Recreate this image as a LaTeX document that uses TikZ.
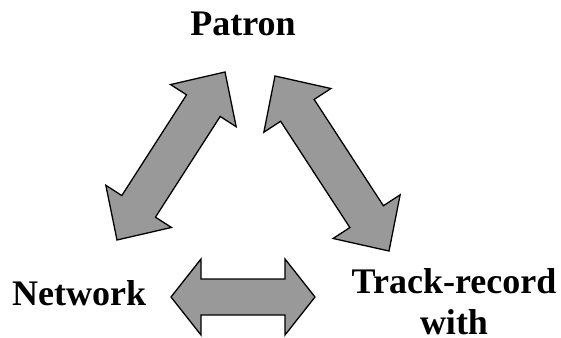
\documentclass[tikz,border=0pt]{standalone}
\usepackage{fontspec}
\setmainfont{Liberation Serif}
\usepackage{xcolor}
\usepackage{tikz}
\usetikzlibrary{calc}
\definecolor{arrowgray}{RGB}{153,153,153}

% block arrow between two tips: #1,#2 tips, #3 shaft half width, #4 head half width, #5 head length
\newcommand{\blockarrow}[5]{%
  \coordinate (h1) at ($(#1)!#5!(#2)$);
  \coordinate (h2) at ($(#2)!#5!(#1)$);
  \draw[arrowbox] (#1) -- ($(h1)!#4!90:(#2)$) -- ($(h1)!#3!90:(#2)$)
    -- ($(h2)!#3!-90:(#1)$) -- ($(h2)!#4!-90:(#1)$) -- (#2)
    -- ($(h2)!#4!90:(#1)$) -- ($(h2)!#3!90:(#1)$)
    -- ($(h1)!#3!-90:(#2)$) -- ($(h1)!#4!-90:(#2)$) -- cycle;
}

\begin{document}
\begin{tikzpicture}[x={(1pt,0pt)}, y={(0pt,-1pt)},
  arrowbox/.style={fill=arrowgray, draw=black, line width=1.3pt},
  label/.style={inner sep=0pt, font=\fontsize{36}{41}\selectfont\bfseries}]
  \useasboundingbox (0,0) rectangle (561,337);
  % labels
  \node[label, anchor=base] (patron) at (243,36) {Patron};
  \node[label, anchor=base west] (network) at (12,305) {Network};
  \node[label, anchor=base, align=center, text depth=0pt] (track) at (454,334) {Track-record\\with};
  % arrow tips
  \coordinate (pn) at (225,72);
  \coordinate (np) at (117,240);
  \coordinate (pt) at (275,76);
  \coordinate (tp) at (389,251);
  \coordinate (nt) at (171,297);
  \coordinate (tn) at (315,297);
  % arrows
  \blockarrow{pn}{np}{20pt}{39pt}{40pt}
  \blockarrow{pt}{tp}{20pt}{40pt}{41pt}
  \blockarrow{nt}{tn}{18pt}{38pt}{30pt}
\end{tikzpicture}
\end{document}
